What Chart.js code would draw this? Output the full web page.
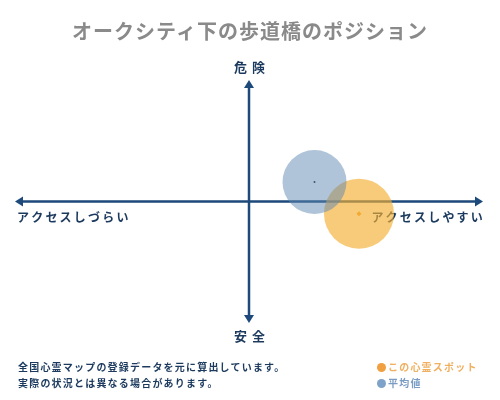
<!DOCTYPE html>
<html lang="ja">
<head>
  <meta charset="UTF-8">
  <title>オークシティ下の歩道橋のポジション</title>
  <script src="https://cdn.jsdelivr.net/npm/chart.js"></script>
  <style>
    body {
      margin: 0;
      background: #fff;
      font-family: 'Noto Sans CJK JP', sans-serif;
    }
    .wrap {
      position: relative;
      width: 500px;
      height: 400px;
    }
    canvas {
      position: absolute;
      left: 0;
      top: 0;
    }
    .title {
      position: absolute;
      top: 16px;
      width: 500px;
      text-align: center;
      font-size: 20px;
      font-weight: bold;
      letter-spacing: 1px;
      color: #8a8a8a;
    }
    .note {
      position: absolute;
      left: 18px;
      top: 359px;
      font-size: 10px;
      font-weight: bold;
      line-height: 16px;
      letter-spacing: 1.2px;
      color: #1c3a5e;
    }
    .legend {
      position: absolute;
      left: 377px;
      top: 359px;
      font-size: 10px;
      font-weight: bold;
      line-height: 16px;
      letter-spacing: 1.2px;
    }
    .legend span.dot {
      display: inline-block;
      width: 9px;
      height: 9px;
      border-radius: 50%;
      margin-right: 2px;
      vertical-align: -1px;
    }
  </style>
</head>
<body>
  <div class="wrap">
    <canvas id="posChart" width="500" height="400"></canvas>
    <div class="title">オークシティ下の歩道橋のポジション</div>
    <div class="note">全国心霊マップの登録データを元に算出しています。<br>実際の状況とは異なる場合があります。</div>
    <div class="legend">
      <div style="color:#f0b060"><span class="dot" style="background:#f0a040"></span>この心霊スポット</div>
      <div style="color:#7a9cc4"><span class="dot" style="background:#7fa3c8"></span>平均値</div>
    </div>
  </div>

  <script>
    // 値
    const seriesNames = ['この心霊スポット', '平均値'];
    const xValues = [0.47, 0.28];   // アクセスしづらい(-1) … アクセスしやすい(+1)
    const yValues = [-0.10, 0.16];  // 安全(-1) … 危険(+1)
    const radii = [35, 32];

    const axisLabels = { top: '危険', bottom: '安全', left: 'アクセスしづらい', right: 'アクセスしやすい' };

    const navy = '#1d4a7a';

    // 矢印付きの軸とラベル
    const axesPlugin = {
      id: 'arrowAxes',
      beforeDatasetsDraw(chart) {
        const ctx = chart.ctx;
        const xs = chart.scales.x, ys = chart.scales.y;
        const x0 = xs.getPixelForValue(0), y0 = ys.getPixelForValue(0);
        const l = xs.getPixelForValue(-1), r = xs.getPixelForValue(1);
        const t = ys.getPixelForValue(1), b = ys.getPixelForValue(-1);
        ctx.save();
        ctx.strokeStyle = navy;
        ctx.fillStyle = navy;
        ctx.lineWidth = 2.5;
        ctx.beginPath();
        ctx.moveTo(l + 4, y0); ctx.lineTo(r - 4, y0);
        ctx.moveTo(x0, t + 4); ctx.lineTo(x0, b - 4);
        ctx.stroke();
        const head = (pts) => {
          ctx.beginPath();
          ctx.moveTo(pts[0], pts[1]); ctx.lineTo(pts[2], pts[3]); ctx.lineTo(pts[4], pts[5]);
          ctx.closePath(); ctx.fill();
        };
        head([r, y0, r - 8, y0 - 5, r - 8, y0 + 5]);
        head([l, y0, l + 8, y0 - 5, l + 8, y0 + 5]);
        head([x0, t, x0 - 5, t + 8, x0 + 5, t + 8]);
        head([x0, b, x0 - 5, b - 8, x0 + 5, b - 8]);

        ctx.font = "bold 13px 'Noto Sans CJK JP'";
        ctx.fillStyle = '#1c3a5e';
        ctx.letterSpacing = '5px';
        ctx.textBaseline = 'middle';
        ctx.textAlign = 'center';
        ctx.fillText(axisLabels.top, x0 + 3, t - 13);
        ctx.fillText(axisLabels.bottom, x0 + 3, b + 13);
        ctx.font = "bold 12px 'Noto Sans CJK JP'";
        ctx.letterSpacing = '2.2px';
        ctx.textAlign = 'left';
        ctx.fillText(axisLabels.left, l + 2, y0 + 16);
        ctx.textAlign = 'right';
        ctx.fillText(axisLabels.right, r + 2, y0 + 16);
        ctx.restore();
      }
    };

    new Chart(document.getElementById('posChart'), {
      type: 'bubble',
      data: {
        datasets: [
          {
            label: seriesNames[1],
            data: [{ x: xValues[1], y: yValues[1], r: radii[1] }],
            backgroundColor: 'rgba(95, 135, 180, 0.5)',
            borderWidth: 0
          },
          {
            label: seriesNames[0],
            data: [{ x: xValues[0], y: yValues[0], r: radii[0] }],
            backgroundColor: 'rgba(245, 175, 50, 0.65)',
            borderWidth: 0
          },
          {
            label: seriesNames[1] + '中心',
            data: [{ x: xValues[1], y: yValues[1], r: 1 }],
            backgroundColor: '#222',
            borderWidth: 0
          },
          {
            label: seriesNames[0] + '中心',
            data: [{ x: xValues[0], y: yValues[0], r: 2.5 }],
            backgroundColor: '#f0a030',
            pointStyle: 'rectRot',
            borderWidth: 0
          }
        ]
      },
      options: {
        responsive: false,
        animation: false,
        layout: { autoPadding: false, padding: { left: 15, right: 17, top: 80, bottom: 77 } },
        plugins: {
          legend: { display: false },
          tooltip: { enabled: false }
        },
        scales: {
          x: { display: false, min: -1, max: 1 },
          y: { display: false, min: -1, max: 1 }
        }
      },
      plugins: [axesPlugin]
    });
  </script>
</body>
</html>
